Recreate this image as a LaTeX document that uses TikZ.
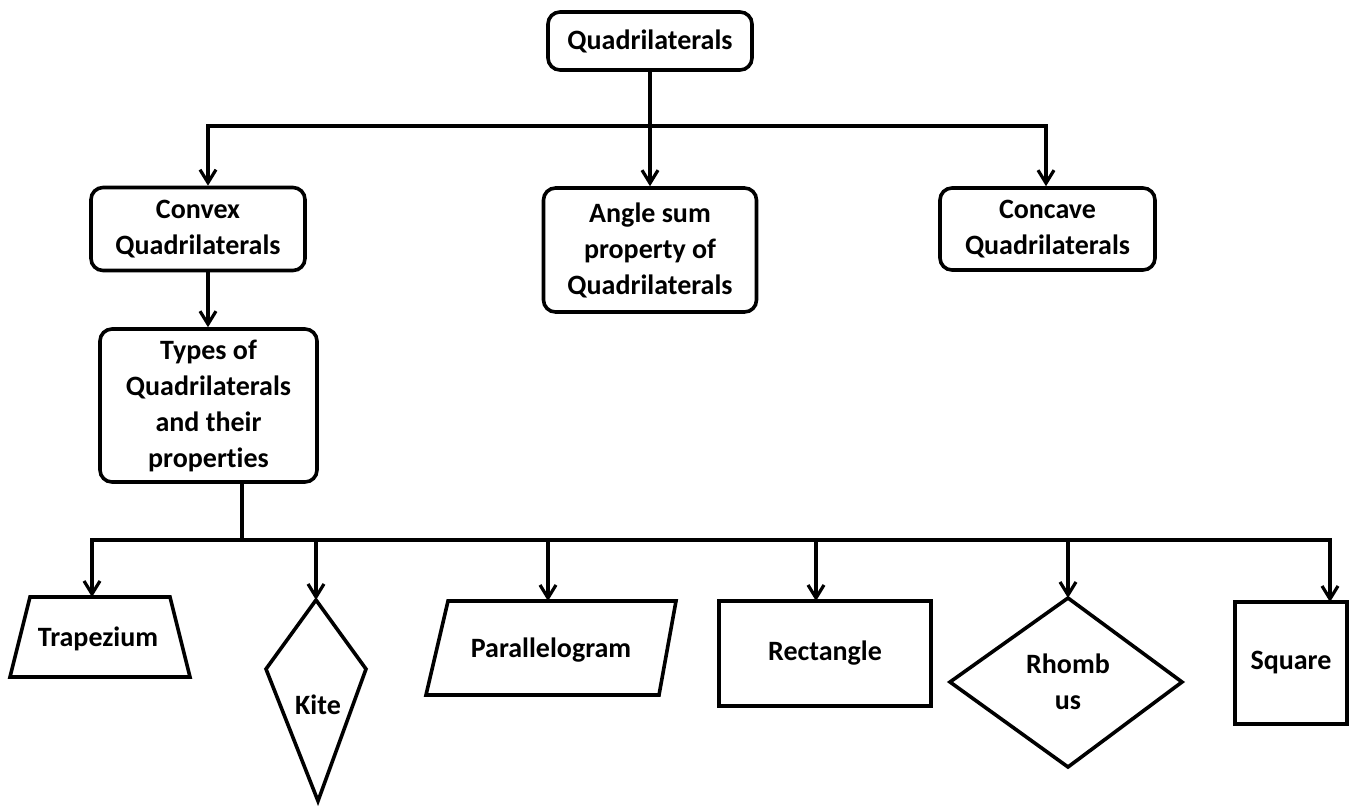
\documentclass[tikz,border=0pt]{standalone}
\usepackage{fontspec}
\setmainfont[Ligatures=NoCommon]{Carlito}
\usetikzlibrary{arrows.meta}
\begin{document}
\begin{tikzpicture}[x=0.5pt,y=-0.5pt,
  line width=1.8pt, line join=miter,
  every node/.style={font=\bfseries\fontsize{14}{18}\selectfont, align=center, inner sep=0pt},
  rbox/.style={draw, rounded corners=6pt},
  sbox/.style={draw},
  tip/.tip={Straight Barb[length=6.5pt,width=8pt,line width=1.6pt]},
  arr/.style={-tip},
  arr2/.style={tip-tip},
]
\useasboundingbox (0,0) rectangle (1354,810);

% upper part
\node[rbox, minimum width=102pt, minimum height=29pt] (quad) at (650,41) {Quadrilaterals};
\node[rbox, minimum width=107pt, minimum height=41.5pt] (convex) at (198,229) {Convex\\Quadrilaterals};
\node[rbox, minimum width=106.5pt, minimum height=62pt] (angle) at (650,250) {Angle sum\\property of\\Quadrilaterals};
\node[rbox, minimum width=107.5pt, minimum height=41pt] (concave) at (1047.5,229) {Concave\\Quadrilaterals};
\node[rbox, minimum width=108.5pt, minimum height=76.5pt] (types) at (208.5,405.5) {Types of\\Quadrilaterals\\and their\\properties};

\coordinate (hubL) at (208,126);
\coordinate (hubR) at (1046,126);
\draw[arr] (quad.south) -- (angle.north);
\draw[arr2] (hubL |- convex.north) -- (hubL) -- (hubR) -- (hubR |- concave.north);
\draw[arr] (convex.south -| hubL) -- (types.north -| hubL);

% shapes of the lower row
\coordinate (trapTop) at (92,597);
\coordinate (kiteTop) at (316,600);
\coordinate (parTop) at (548,601);
\coordinate (rectTop) at (816,601);
\coordinate (rhTop) at (1068,598);
\coordinate (sqTop) at (1330,602);

\draw (30,597) -- (170,597) -- (190,677) -- (10,677) -- cycle;
\node (trap) at (98,639) {Trapezium};

\draw (kiteTop) -- (366,669) -- (318,801) -- (266,669) -- cycle;
\node (kite) at (318,705) {Kite};

\draw (448,601) -- (676,601) -- (659,695) -- (426,695) -- cycle;
\node (par) at (551,650) {Parallelogram};

\node[sbox, minimum width=106pt, minimum height=52.5pt] (rect) at (825,653.5) {Rectangle};

\draw (rhTop) -- (1182,682) -- (1068,767) -- (950,682) -- cycle;
\node (rh) at (1068,682) {Rhomb\\us};

\node[sbox, minimum width=56pt, minimum height=61pt] (sq) at (1291,663) {Square};

% lower connectors
\coordinate (busIn) at (242,540);
\draw (types.south -| busIn) -- (busIn);
\draw[arr2] (trapTop) -- (trapTop |- busIn) -- (sqTop |- busIn) -- (sqTop);
\draw[arr] (kiteTop |- busIn) -- (kiteTop);
\draw[arr] (parTop |- busIn) -- (parTop);
\draw[arr] (rectTop |- busIn) -- (rectTop);
\draw[arr] (rhTop |- busIn) -- (rhTop);
\end{tikzpicture}
\end{document}
